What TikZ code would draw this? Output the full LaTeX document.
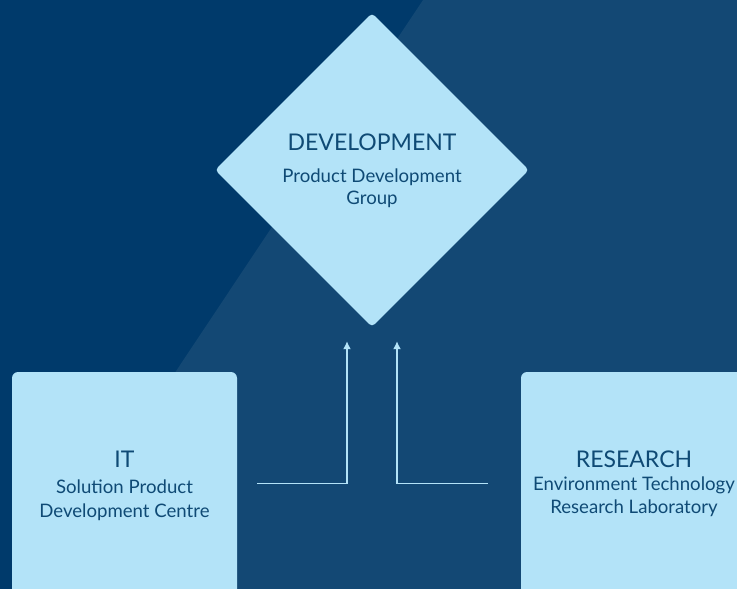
\documentclass[tikz,border=0pt]{standalone}
\usepackage{fontspec}
\setmainfont{Lato}
\usetikzlibrary{shapes.geometric,arrows.meta}
\definecolor{navydark}{HTML}{003A6B}
\definecolor{navylight}{HTML}{134874}
\definecolor{boxblue}{HTML}{B3E3F8}
\definecolor{textblue}{HTML}{0F4A75}
\tikzset{
  unit/.style = {fill = boxblue, draw = none, inner sep = 0pt},
  head/.style = {text = textblue, anchor = base, inner sep = 0pt, font = \fontsize{23}{28}\selectfont},
  sub/.style = {text = textblue, anchor = base, inner sep = 0pt, font = \fontsize{18.6}{22}\selectfont},
  flow/.style = {draw = boxblue, line width = 1.5pt, -{Latex[length=8pt,width=8pt]}},
}
\begin{document}
\begin{tikzpicture}[x=1pt,y=-1pt]
\useasboundingbox (0,0) rectangle (737,589);
% background with the diagonal band
\fill[navydark] (0,0) rectangle (737,589);
\fill[navylight] (423,0) -- (737,0) -- (737,589) -- (31,589) -- cycle;
% units
\node[unit, shape = diamond, minimum width = 314, minimum height = 314, rounded corners = 4pt] (dev) at (372,170) {};
\node[unit, rectangle, minimum width = 225, minimum height = 223, rounded corners = 6pt] (it) at (124.5,483.5) {};
\node[unit, rectangle, minimum width = 226, minimum height = 223, rounded corners = 6pt] (res) at (634,483.5) {};
% texts
\node[head] (devhead) at (372,150) {DEVELOPMENT};
\node[sub] (devsub1) at (372,182) {Product Development};
\node[sub] (devsub2) at (372,204) {Group};
\node[head] (ithead) at (124.5,467) {IT};
\node[sub] (itsub1) at (124.5,493) {Solution Product};
\node[sub] (itsub2) at (124.5,517) {Development Centre};
\node[head] (reshead) at (634,467) {RESEARCH};
\node[sub] (ressub1) at (634,490) {Environment Technology};
\node[sub] (ressub2) at (634,513) {Research Laboratory};
% connectors
\draw[flow] ([xshift=20pt]it.east) -| ([xshift=-25pt,yshift=-14pt]dev.south);
\draw[flow] ([xshift=-33pt]res.west) -| ([xshift=25pt,yshift=-14pt]dev.south);
\end{tikzpicture}
\end{document}
